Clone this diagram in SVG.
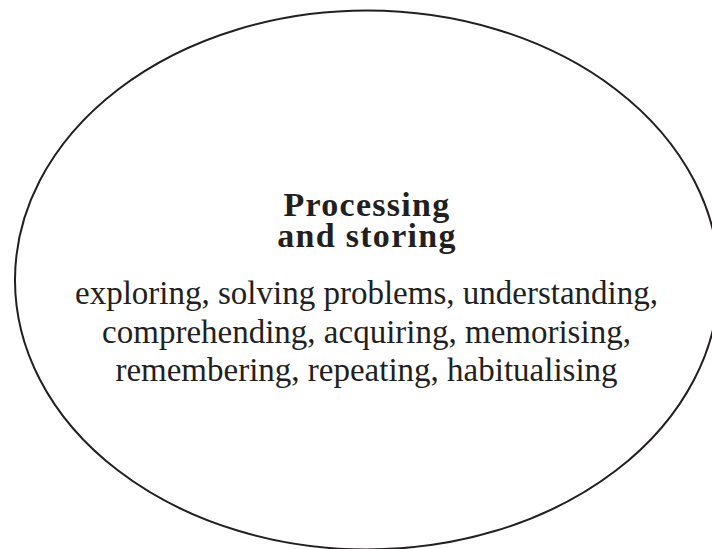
<svg xmlns="http://www.w3.org/2000/svg" width="712" height="549" viewBox="0 0 712 549">
<style>
.shape{fill:#ffffff;stroke:#231f20;stroke-width:2}
.title{font-family:"Liberation Serif","Times New Roman",serif;font-weight:bold;font-size:34px;letter-spacing:1.3px;fill:#231f20;text-anchor:middle}
.body{font-family:"Liberation Serif","Times New Roman",serif;font-size:33px;fill:#231f20;text-anchor:middle}
</style>
<rect x="0" y="0" width="712" height="549" fill="#ffffff"/>
<g id="connectors"></g>
<g id="node-processing">
<ellipse class="shape" cx="367" cy="280" rx="352" ry="269.5"/>
<text class="title"><tspan x="367" y="215.5">Processing</tspan><tspan x="367" y="247">and storing</tspan></text>
<text class="body"><tspan x="366.5" y="304">exploring, solving problems, understanding,</tspan><tspan x="366.5" y="342.5">comprehending, acquiring, memorising,</tspan><tspan x="366.5" y="380.5">remembering, repeating, habitualising</tspan></text>
</g>
</svg>
